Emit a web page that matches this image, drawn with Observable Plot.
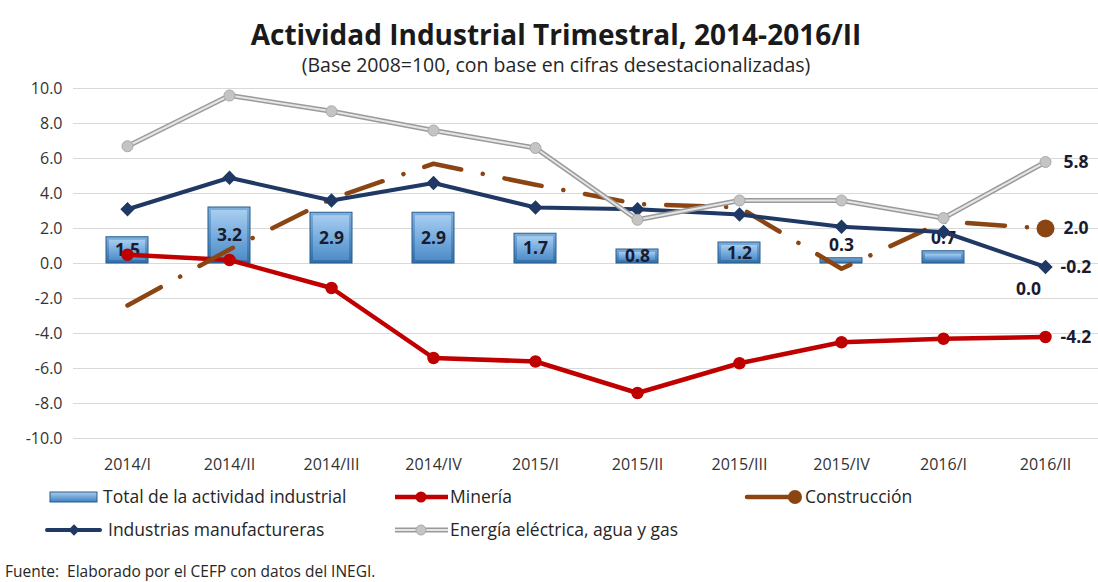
<!DOCTYPE html>
<html>
<head>
<meta charset="utf-8">
<script src="https://cdn.jsdelivr.net/npm/d3@7"></script>
<script src="https://cdn.jsdelivr.net/npm/@observablehq/plot@0.6"></script>
<style>
  body { margin: 0; background: #fff; font-family: "Open Sans", Lato, sans-serif; }
  #wrap { position: relative; width: 1098px; height: 582px; overflow: hidden; background: #fff; }
  #title { position: absolute; left: 0; top: 17px; width: 1112px; text-align: center; font-size: 28px; font-weight: bold; color: #1a1a1a; line-height: 34px; }
  #subtitle { position: absolute; left: 0; top: 53px; width: 1112px; text-align: center; font-size: 19.5px; color: #262626; line-height: 24px; }
  #chart { position: absolute; left: 0; top: 75px; }
  #legend { position: absolute; left: 0; top: 478px; }
  #caption { position: absolute; left: 5px; top: 562px; font-size: 15.5px; color: #262626; line-height: 19px; }
</style>
</head>
<body>
<div id="wrap">
  <div id="title">Actividad Industrial Trimestral, 2014-2016/II</div>
  <div id="subtitle">(Base 2008=100, con base en cifras desestacionalizadas)</div>
  <div id="chart"></div>
  <div id="legend"></div>
  <div id="caption">Fuente:&nbsp; Elaborado por el CEFP con datos del INEGI.</div>
</div>
<script>
const quarters = ["2014/I","2014/II","2014/III","2014/IV","2015/I","2015/II","2015/III","2015/IV","2016/I","2016/II"];
const total = [1.5, 3.2, 2.9, 2.9, 1.7, 0.8, 1.2, 0.3, 0.7, 0.0];
const mineria = [0.5, 0.2, -1.4, -5.4, -5.6, -7.4, -5.7, -4.5, -4.3, -4.2];
const construccion = [-2.4, 0.8, 3.7, 5.7, 4.5, 3.4, 3.2, -0.3, 2.4, 2.0];
const manufactureras = [3.1, 4.9, 3.6, 4.6, 3.2, 3.1, 2.8, 2.1, 1.8, -0.2];
const energia = [6.7, 9.6, 8.7, 7.6, 6.6, 2.5, 3.6, 3.6, 2.6, 5.8];
const yTicks = [-10, -8, -6, -4, -2, 0, 2, 4, 6, 8, 10];
const seriesNames = ["Total de la actividad industrial", "Minería", "Construcción", "Industrias manufactureras", "Energía eléctrica, agua y  gas"];

const rows = quarters.map((q, i) => ({
  q, total: total[i], mineria: mineria[i], construccion: construccion[i],
  manufactureras: manufactureras[i], energia: energia[i]
}));
const last = rows[rows.length - 1];

const cRed = "#C00000", cBrown = "#8B4513", cNavy = "#1F3864", cGray = "#9A9A9A";
const labelStyle = {fontSize: 17.5, fontWeight: "bold", fill: "#1b1b2e"};

const chart = Plot.plot({
  width: 1098,
  height: 408,
  marginLeft: 73,
  marginRight: 0,
  marginTop: 13,
  marginBottom: 45,
  style: {fontFamily: "'Open Sans', Lato, sans-serif", fontSize: "16px", color: "#333", background: "transparent", overflow: "visible"},
  x: {domain: quarters, paddingInner: 0.59, paddingOuter: 0.295, label: null, tickSize: 0, tickPadding: 20},
  y: {domain: [-10, 10], ticks: yTicks, tickFormat: d => d.toFixed(1), label: null, tickSize: 0, tickPadding: 11},
  marks: [
    Plot.ruleY(yTicks, {stroke: "#d9d9d9", strokeWidth: 1}),
    // Total bars (bevel look)
    Plot.barY(rows, {x: "q", y: "total", fill: "url(#barouter)", stroke: "#2a5d8f", strokeWidth: 1}),
    Plot.barY(rows.filter(d => d.total >= 0.6), {x: "q", y: "total", inset: 3, fill: "url(#barinner)"}),
    Plot.text(rows.filter(d => d.total >= 0.8), {x: "q", y: d => d.total / 2, text: d => d.total.toFixed(1), ...labelStyle}),
    Plot.text(rows.filter(d => d.total > 0 && d.total < 0.8), {x: "q", y: "total", dy: -13, text: d => d.total.toFixed(1), ...labelStyle}),
    Plot.text(rows.filter(d => d.total === 0), {x: "q", y: "total", dy: 26, dx: -17, text: d => d.total.toFixed(1), ...labelStyle}),
    // Minería
    Plot.line(rows, {x: "q", y: "mineria", stroke: cRed, strokeWidth: 4.5, strokeLinejoin: "round"}),
    Plot.dot(rows, {x: "q", y: "mineria", r: 5.5, fill: cRed, stroke: cRed}),
    // Construcción (dash-dot)
    Plot.line(rows, {x: "q", y: "construccion", stroke: cBrown, strokeWidth: 4.5, strokeLinecap: "round", strokeDasharray: "38,22,0.1,22"}),
    Plot.dot([last], {x: "q", y: "construccion", r: 9, fill: cBrown, stroke: "none"}),
    // Manufactureras
    Plot.line(rows, {x: "q", y: "manufactureras", stroke: cNavy, strokeWidth: 4, strokeLinejoin: "round"}),
    Plot.dot(rows, {x: "q", y: "manufactureras", symbol: "diamond2", r: 5.5, fill: cNavy, stroke: cNavy}),
    // Energía (double line)
    Plot.line(rows, {x: "q", y: "energia", stroke: cGray, strokeWidth: 5, strokeLinejoin: "round"}),
    Plot.line(rows, {x: "q", y: "energia", stroke: "#e6e6e6", strokeWidth: 2, strokeLinejoin: "round"}),
    Plot.dot(rows, {x: "q", y: "energia", r: 5.5, fill: "#c4c4c4", stroke: "#a9a9a9", strokeWidth: 1}),
    // End labels
    Plot.text([last], {x: "q", y: "energia", dx: 18, textAnchor: "start", text: d => d.energia.toFixed(1), ...labelStyle}),
    Plot.text([last], {x: "q", y: "construccion", dx: 18, textAnchor: "start", text: d => d.construccion.toFixed(1), ...labelStyle}),
    Plot.text([last], {x: "q", y: "manufactureras", dx: 15, textAnchor: "start", text: d => d.manufactureras.toFixed(1), ...labelStyle}),
    Plot.text([last], {x: "q", y: "mineria", dx: 15, textAnchor: "start", text: d => d.mineria.toFixed(1), ...labelStyle})
  ]
});

d3.select(chart).insert("defs", ":first-child").html(`
  <linearGradient id="barouter" x1="0" y1="0" x2="0" y2="1">
    <stop offset="0" stop-color="#7fb0dd"/>
    <stop offset="1" stop-color="#2f6fa8"/>
  </linearGradient>
  <linearGradient id="barinner" x1="0" y1="0" x2="0" y2="1">
    <stop offset="0" stop-color="#a8cdef"/>
    <stop offset="0.5" stop-color="#78addf"/>
    <stop offset="1" stop-color="#4f8dc8"/>
  </linearGradient>`);
document.getElementById("chart").appendChild(chart);

// Legend
const lg = d3.select("#legend").append("svg").attr("width", 1098).attr("height", 70)
  .style("font-family", "'Open Sans', Lato, sans-serif").style("font-size", "17.5px");
lg.append("defs").html(`<linearGradient id="legbar" x1="0" y1="0" x2="0" y2="1">
    <stop offset="0" stop-color="#a8cdef"/><stop offset="1" stop-color="#3f7fbf"/></linearGradient>`);
const r1 = 19, r2 = 52;
// Total
lg.append("rect").attr("x", 50).attr("y", r1 - 5).attr("width", 47).attr("height", 10)
  .attr("fill", "url(#legbar)").attr("stroke", "#2a5d8f");
lg.append("text").attr("x", 103).attr("y", r1).attr("dy", "0.35em").attr("fill", "#262626").text(seriesNames[0]);
// Minería
lg.append("line").attr("x1", 395).attr("x2", 448).attr("y1", r1).attr("y2", r1).attr("stroke", cRed).attr("stroke-width", 4.5);
lg.append("circle").attr("cx", 421).attr("cy", r1).attr("r", 5.5).attr("fill", cRed);
lg.append("text").attr("x", 450).attr("y", r1).attr("dy", "0.35em").attr("fill", "#262626").text(seriesNames[1]);
// Construcción
lg.append("line").attr("x1", 747).attr("x2", 795).attr("y1", r1).attr("y2", r1).attr("stroke", cBrown).attr("stroke-width", 4.5).attr("stroke-linecap", "round");
lg.append("circle").attr("cx", 795).attr("cy", r1).attr("r", 7).attr("fill", cBrown);
lg.append("text").attr("x", 805).attr("y", r1).attr("dy", "0.35em").attr("fill", "#262626").text(seriesNames[2]);
// Manufactureras
lg.append("line").attr("x1", 47).attr("x2", 100).attr("y1", r2).attr("y2", r2).attr("stroke", cNavy).attr("stroke-width", 4).attr("stroke-linecap", "round");
lg.append("path").attr("d", d3.symbol(d3.symbolSquare, 64)()).attr("transform", `translate(74,${r2}) rotate(45)`).attr("fill", cNavy);
lg.append("text").attr("x", 108).attr("y", r2).attr("dy", "0.35em").attr("fill", "#262626").text(seriesNames[3]);
// Energía
lg.append("line").attr("x1", 395).attr("x2", 448).attr("y1", r2).attr("y2", r2).attr("stroke", cGray).attr("stroke-width", 5);
lg.append("line").attr("x1", 395).attr("x2", 448).attr("y1", r2).attr("y2", r2).attr("stroke", "#e6e6e6").attr("stroke-width", 2);
lg.append("circle").attr("cx", 421).attr("cy", r2).attr("r", 5).attr("fill", "#c4c4c4").attr("stroke", "#a9a9a9");
lg.append("text").attr("x", 450).attr("y", r2).attr("dy", "0.35em").attr("fill", "#262626").text(seriesNames[4]);
</script>
</body>
</html>
